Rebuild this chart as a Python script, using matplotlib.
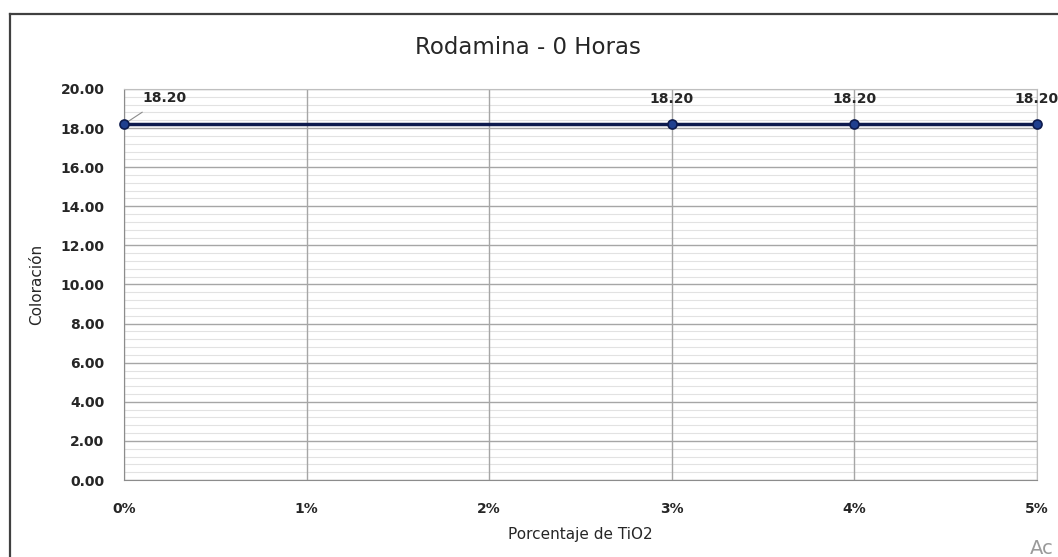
import matplotlib
matplotlib.use("Agg")
import matplotlib.pyplot as plt
from matplotlib.ticker import FuncFormatter, MultipleLocator
from matplotlib.lines import Line2D

x_vals = [0.00, 0.03, 0.04, 0.05]
y_vals = [18.20, 18.20, 18.20, 18.20]
labels = ["18.20", "18.20", "18.20", "18.20"]
title = "Rodamina - 0 Horas"
xlabel = "Porcentaje de TiO2"
ylabel = "Coloración"

W, H = 1058, 557
fig = plt.figure(figsize=(W / 100, H / 100), dpi=100)
ax = fig.add_axes([124 / W, 1 - 480 / H, (1037 - 124) / W, (480 - 89) / H])

ax.set_xlim(0, 0.05)
ax.set_ylim(0, 20)
ax.xaxis.set_major_locator(MultipleLocator(0.01))
ax.yaxis.set_major_locator(MultipleLocator(2))
ax.yaxis.set_minor_locator(MultipleLocator(0.4))
ax.xaxis.set_major_formatter(FuncFormatter(lambda v, p: f"{v*100:.0f}%"))
ax.yaxis.set_major_formatter(FuncFormatter(lambda v, p: f"{v:.2f}"))

ax.set_axisbelow(True)
ax.grid(True, which="minor", axis="y", color="#e2e2e2", lw=0.8)
ax.grid(True, which="major", axis="y", color="#a6a6a6", lw=1.0)
ax.vlines(ax.get_xticks(), 0, 1, transform=ax.get_xaxis_transform(),
          color="#a6a6a6", lw=1.0, zorder=1)
for s in ["top", "right"]:
    ax.spines[s].set_color("#bfbfbf")
for s in ["left", "bottom"]:
    ax.spines[s].set_color("#8c8c8c")
ax.tick_params(which="both", length=0)
ax.tick_params(axis="y", pad=14, labelsize=10)
ax.tick_params(axis="x", pad=16, labelsize=10)
for t in ax.get_xticklabels() + ax.get_yticklabels():
    t.set_fontweight("bold")
    t.set_color("#262626")

ax.plot(x_vals, y_vals, color="#0d1a4d", lw=2.5, marker="o", ms=6.5,
        mfc="#1f3f8f", mec="#0d1a4d", mew=1.2, clip_on=False, zorder=5)

for i, (xv, yv, lb) in enumerate(zip(x_vals, y_vals, labels)):
    if i == 0:
        ax.annotate(lb, xy=(xv, yv), xytext=(13, 19), textcoords="offset points",
                    fontsize=10, fontweight="bold", color="#262626",
                    ha="left", va="center",
                    arrowprops=dict(arrowstyle="-", color="#8c8c8c", lw=0.8,
                                    shrinkA=6, shrinkB=3))
    else:
        ax.annotate(lb, xy=(xv, yv), xytext=(0, 18), textcoords="offset points",
                    fontsize=10, fontweight="bold", color="#262626",
                    ha="center", va="center", annotation_clip=False)

fig.text(528 / W, 1 - 47 / H, title, fontsize=16.5, ha="center", va="center",
         color="#262626")
ax.set_xlabel(xlabel, fontsize=11, color="#262626", labelpad=8, fontweight="medium")
ax.set_ylabel(ylabel, fontsize=11, color="#262626", labelpad=12, fontweight="medium")

# outer frame (left and top borders visible)
fig.add_artist(Line2D([10 / W, 10 / W], [0, 1 - 14 / H], color="#404040", lw=1.6,
                      transform=fig.transFigure))
fig.add_artist(Line2D([10 / W, 1], [1 - 14 / H, 1 - 14 / H], color="#404040", lw=1.6,
                      transform=fig.transFigure))
fig.text(1030 / W, 1 - 548 / H, "Ac", fontsize=14, color="#9a9a9a", ha="left",
         va="center")

fig.savefig("out.png", dpi=100)
